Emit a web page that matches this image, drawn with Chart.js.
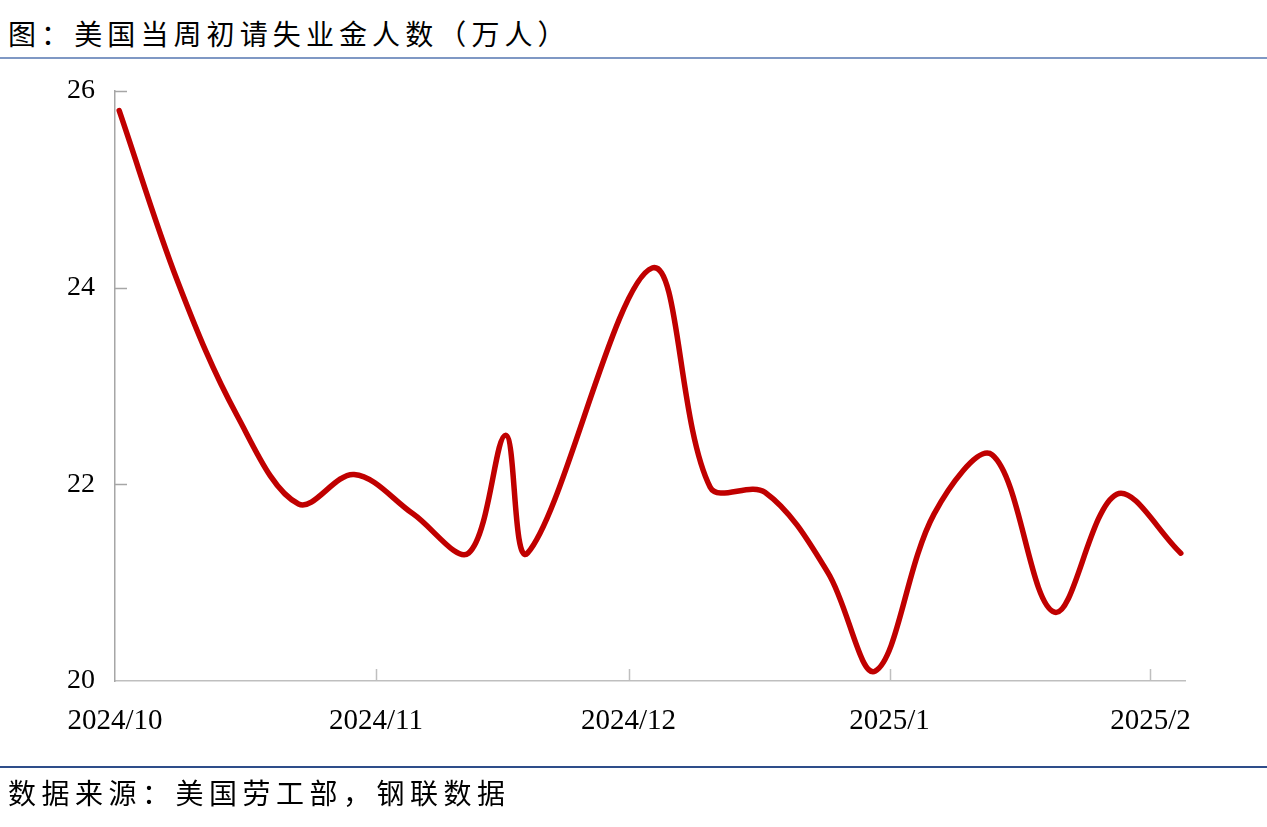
<!DOCTYPE html>
<html>
<head>
<meta charset="utf-8">
<script src="https://cdn.jsdelivr.net/npm/chart.js@4/dist/chart.umd.min.js"></script>
<style>
html,body{margin:0;padding:0;background:#fff;width:1267px;height:827px;overflow:hidden;}
#title{position:absolute;left:8px;top:13px;font-family:"Noto Sans CJK SC";font-size:28px;letter-spacing:5.1px;line-height:40px;color:#000;white-space:nowrap;}
#topline{position:absolute;left:0;top:57px;width:1267px;height:2px;background:#7f98c4;}
#botline{position:absolute;left:0;top:766px;width:1267px;height:1.5px;background:#2e4d8a;}
#source{position:absolute;left:8px;top:772px;font-family:"Noto Sans CJK SC";font-size:28px;letter-spacing:5.5px;line-height:40px;color:#000;white-space:nowrap;}
#wrap{position:absolute;left:0;top:0;width:1267px;height:827px;}
</style>
</head>
<body>
<div id="title">图：美国当周初请失业金人数（万人）</div>
<div id="topline"></div>
<div id="wrap"><canvas id="c" width="1267" height="827"></canvas></div>
<div id="botline"></div>
<div id="source">数据来源：美国劳工部，钢联数据</div>
<script>
// x positions: days since 2024/10/1
const weekDays = [0.5, 7.5, 14.5, 21.8, 28.4, 35.4, 42.0, 46.4, 49.0, 63.8, 70.7, 77.2, 84.7, 90.3, 97.3, 104.2, 111.6, 119.0, 126.6];
// initial jobless claims, 10k persons
const claims = [25.8, 24.05, 22.7, 21.8, 22.1, 21.7, 21.3, 22.5, 21.3, 24.2, 21.97, 21.92, 21.1, 20.1, 21.7, 22.3, 20.7, 21.9, 21.3];
// month ticks
const monthTickDays = [0, 31, 61, 92, 123];
const monthTickLabels = ['2024/10', '2024/11', '2024/12', '2025/1', '2025/2'];
const yTickValues = [20, 22, 24, 26];

const innerTicks = {
  id: 'innerTicks',
  beforeDatasetsDraw(chart) {
    const ctx = chart.ctx, xs = chart.scales.x, ys = chart.scales.y;
    ctx.save();
    ctx.lineWidth = 1.5;
    ctx.strokeStyle = '#a6a6a6';
    ys.ticks.forEach(t => {
      if (t.value === ys.min) return;
      const y = Math.round(ys.getPixelForValue(t.value)) + 0.5;
      ctx.beginPath(); ctx.moveTo(xs.left, y); ctx.lineTo(xs.left + 12, y); ctx.stroke();
    });
    ctx.strokeStyle = '#bfbfbf';
    xs.ticks.forEach(t => {
      if (t.value === xs.min) return;
      const x = Math.round(xs.getPixelForValue(t.value)) + 0.5;
      ctx.beginPath(); ctx.moveTo(x, ys.bottom); ctx.lineTo(x, ys.bottom - 12); ctx.stroke();
    });
    ctx.restore();
  }
};

new Chart(document.getElementById('c'), {
  type: 'line',
  data: {
    datasets: [{
      data: weekDays.map((d, i) => ({ x: d, y: claims[i] })),
      borderColor: '#c00000',
      borderWidth: 5.5,
      borderCapStyle: 'round',
      borderJoinStyle: 'round',
      tension: 0.35,
      pointRadius: 0,
      fill: false,
      clip: false
    }]
  },
  options: {
    responsive: false,
    animation: false,
    layout: { padding: { left: 0, right: 82, top: 91, bottom: 0 } },
    plugins: { legend: { display: false }, tooltip: { enabled: false }, title: { display: false } },
    scales: {
      x: {
        type: 'linear',
        min: 0,
        max: 127.1,
        afterBuildTicks: s => { s.ticks = monthTickDays.map(v => ({ value: v })); },
        afterFit: s => { s.height = 146; },
        ticks: {
          autoSkip: false,
          maxRotation: 0,
          padding: 23,
          color: '#000',
          font: { family: 'Liberation Serif', size: 29 },
          callback: v => monthTickLabels[monthTickDays.indexOf(v)]
        },
        grid: { display: false, drawTicks: false },
        border: { display: true, color: '#bfbfbf', width: 1.5 }
      },
      y: {
        min: 20,
        max: 26,
        afterBuildTicks: s => { s.ticks = yTickValues.map(v => ({ value: v })); },
        afterFit: s => { s.width = 115; },
        ticks: {
          padding: 20,
          color: '#000',
          font: { family: 'Liberation Serif', size: 28 }
        },
        grid: { display: false, drawTicks: false },
        border: { display: true, color: '#a6a6a6', width: 1.5 }
      }
    }
  },
  plugins: [innerTicks]
});
</script>
</body>
</html>
